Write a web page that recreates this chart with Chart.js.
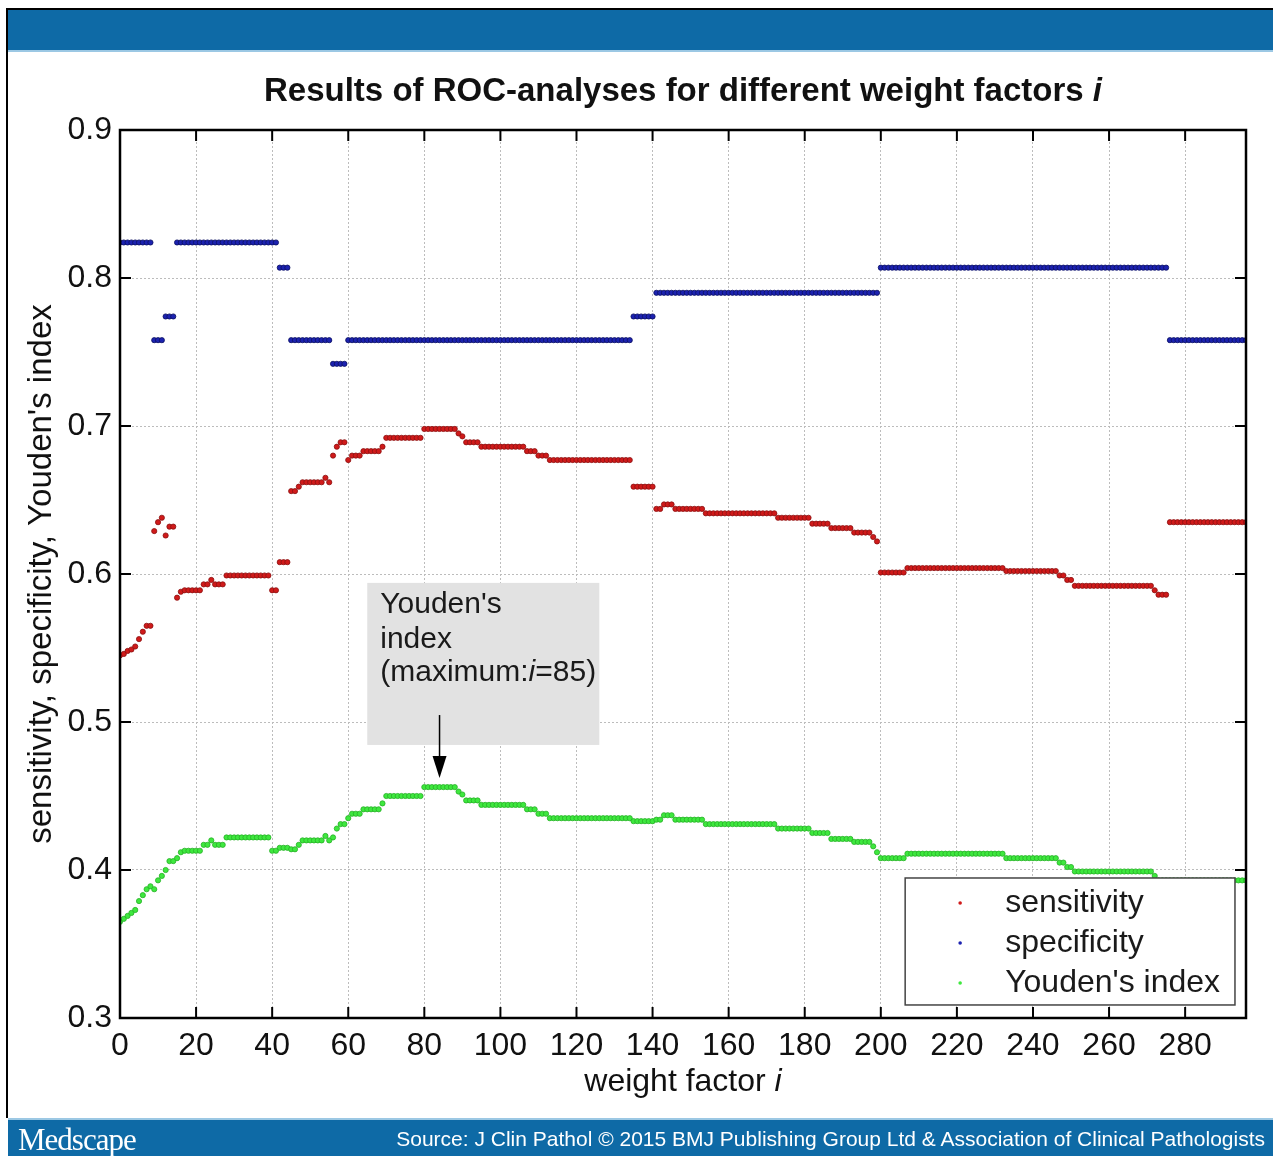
<!DOCTYPE html>
<html>
<head>
<meta charset="utf-8">
<script src="https://cdn.jsdelivr.net/npm/chart.js@4.4.1/dist/chart.umd.min.js"></script>
<style>
  html, body { margin: 0; padding: 0; background: #fff; }
  body { width: 1273px; height: 1156px; position: relative; overflow: hidden; font-family: "Liberation Sans", Arial, sans-serif; }
  #chart { position: absolute; left: 0; top: 0; }
  .frame { position: absolute; left: 6px; top: 8px; width: 1267px; height: 1110px; border-left: 2px solid #000; border-top: 2px solid #000; box-sizing: border-box; pointer-events: none; }
  .band-top { position: absolute; left: 8px; top: 10px; width: 1265px; height: 40px; background: #0e6aa6; border-bottom: 2px solid #9cc8e4; }
  .band-bottom { position: absolute; left: 8px; top: 1118px; width: 1265px; height: 38px; background: #0e6aa6; color: #fff; border-top: 2px solid #9cc8e4; box-sizing: border-box; }
  .logo { position: absolute; left: 10px; top: 2px; font-family: "Liberation Serif", "DejaVu Serif", serif; font-size: 31px; letter-spacing: -1px; }
  .source { position: absolute; right: 8px; top: 7px; font-size: 21px; white-space: nowrap; }
</style>
</head>
<body>
<canvas id="chart" width="1273" height="1156"></canvas>
<div class="frame"></div>
<div class="band-top"></div>
<div class="band-bottom">
  <span class="logo">Medscape</span>
  <span class="source">Source: J Clin Pathol © 2015 BMJ Publishing Group Ltd &amp; Association of Clinical Pathologists</span>
</div>
<script>
// weight factor i runs from 0 to xMax, one point per integer
const xMax = 296;
const xTicks = [0, 20, 40, 60, 80, 100, 120, 140, 160, 180, 200, 220, 240, 260, 280];
const yTicks = [0.3, 0.4, 0.5, 0.6, 0.7, 0.8, 0.9];

// values, as [from i, to i, value] runs
const sensitivityRuns = [
  [0, 0, 0.545], [1, 1, 0.546], [2, 2, 0.548], [3, 3, 0.549], [4, 4, 0.551], [5, 5, 0.556],
  [6, 6, 0.561], [7, 8, 0.565], [9, 9, 0.629], [10, 10, 0.635], [11, 11, 0.638], [12, 12, 0.626],
  [13, 14, 0.632], [15, 15, 0.584], [16, 16, 0.588], [17, 21, 0.589], [22, 23, 0.593], [24, 24, 0.596],
  [25, 27, 0.593], [28, 39, 0.599], [40, 41, 0.589], [42, 44, 0.608], [45, 46, 0.656], [47, 47, 0.659],
  [48, 53, 0.662], [54, 54, 0.665], [55, 55, 0.662], [56, 56, 0.680], [57, 57, 0.686], [58, 59, 0.689],
  [60, 60, 0.677], [61, 63, 0.680], [64, 68, 0.683], [69, 69, 0.686], [70, 79, 0.692], [80, 88, 0.698],
  [89, 89, 0.695], [90, 90, 0.693], [91, 94, 0.689], [95, 106, 0.686], [107, 109, 0.683], [110, 112, 0.680],
  [113, 134, 0.677], [135, 140, 0.659], [141, 142, 0.644], [143, 145, 0.647], [146, 153, 0.644],
  [154, 172, 0.641], [173, 181, 0.638], [182, 186, 0.634], [187, 192, 0.631], [193, 197, 0.628],
  [198, 198, 0.625], [199, 199, 0.622], [200, 206, 0.601], [207, 232, 0.604], [233, 246, 0.602],
  [247, 248, 0.599], [249, 250, 0.596], [251, 271, 0.592], [272, 272, 0.589], [273, 275, 0.586],
  [276, 296, 0.635]
];

const specificityRuns = [
  [0, 8, 0.824], [9, 11, 0.758], [12, 14, 0.774], [15, 41, 0.824], [42, 44, 0.807], [45, 55, 0.758],
  [56, 59, 0.742], [60, 134, 0.758], [135, 140, 0.774], [141, 199, 0.790], [200, 275, 0.807],
  [276, 296, 0.758]
];

const youdenRuns = [
  [0, 0, 0.365], [1, 1, 0.367], [2, 2, 0.369], [3, 3, 0.371], [4, 4, 0.373], [5, 5, 0.379],
  [6, 6, 0.383], [7, 7, 0.387], [8, 8, 0.389], [9, 9, 0.387], [10, 10, 0.393], [11, 11, 0.396],
  [12, 12, 0.400], [13, 14, 0.406], [15, 15, 0.408], [16, 16, 0.412], [17, 21, 0.413], [22, 23, 0.417],
  [24, 24, 0.420], [25, 27, 0.417], [28, 39, 0.422], [40, 41, 0.413], [42, 44, 0.415], [45, 46, 0.414],
  [47, 47, 0.417], [48, 53, 0.420], [54, 54, 0.423], [55, 55, 0.420], [56, 56, 0.422], [57, 57, 0.428],
  [58, 59, 0.431], [60, 60, 0.435], [61, 63, 0.438], [64, 68, 0.441], [69, 69, 0.445], [70, 79, 0.450],
  [80, 88, 0.456], [89, 89, 0.453], [90, 90, 0.451], [91, 94, 0.447], [95, 106, 0.444], [107, 109, 0.441],
  [110, 112, 0.438], [113, 134, 0.435], [135, 140, 0.433], [141, 142, 0.434], [143, 145, 0.437],
  [146, 153, 0.434], [154, 172, 0.431], [173, 181, 0.428], [182, 186, 0.425], [187, 192, 0.421],
  [193, 197, 0.419], [198, 198, 0.416], [199, 199, 0.412], [200, 206, 0.408], [207, 232, 0.411],
  [233, 246, 0.408], [247, 248, 0.405], [249, 250, 0.402], [251, 271, 0.399], [272, 272, 0.396],
  [273, 275, 0.393], [276, 296, 0.393]
];

const FONT = '"Liberation Sans", Arial, sans-serif';

function expandRuns(runs) {
  const pts = [];
  runs.forEach(([from, to, value]) => {
    for (let i = from; i <= to; i++) pts.push({ x: i, y: value });
  });
  return pts;
}

function dotSet(label, runs, fill, edge) {
  return {
    label: label,
    data: expandRuns(runs),
    backgroundColor: fill,
    borderColor: edge,
    borderWidth: 0.8,
    pointRadius: 2.6,
    showLine: false,
  };
}

function line(ctx, x1, y1, x2, y2) {
  ctx.beginPath();
  ctx.moveTo(x1, y1);
  ctx.lineTo(x2, y2);
  ctx.stroke();
}

// draws a run of [text, font] pieces centred on cx
function mixedText(ctx, pieces, cx, cy) {
  let total = 0;
  pieces.forEach(p => { ctx.font = p[1]; total += ctx.measureText(p[0]).width; });
  let x = cx - total / 2;
  ctx.textAlign = 'left';
  ctx.textBaseline = 'middle';
  pieces.forEach(p => {
    ctx.font = p[1];
    ctx.fillText(p[0], x, cy);
    x += ctx.measureText(p[0]).width;
  });
}

// grey note box with arrow, and the boxed legend inside the plot
const overlays = {
  id: 'overlays',
  afterDatasetsDraw(chart) {
    const { ctx, scales: { x, y } } = chart;
    ctx.save();

    // annotation
    const bl = x.getPixelForValue(65), br = x.getPixelForValue(126);
    const bt = y.getPixelForValue(0.594), bb = y.getPixelForValue(0.4845);
    ctx.fillStyle = '#e2e2e2';
    ctx.fillRect(bl, bt, br - bl, bb - bt);
    ctx.fillStyle = '#1a1a1a';
    ctx.textAlign = 'left';
    ctx.textBaseline = 'middle';
    ctx.font = '30px ' + FONT;
    ctx.fillText("Youden's", bl + 13, bt + 22);
    ctx.fillText('index', bl + 13, bt + 57);
    let tx = bl + 13;
    [['(maximum:', '30px ' + FONT], ['i', 'italic 30px ' + FONT], ['=85)', '30px ' + FONT]].forEach(p => {
      ctx.font = p[1];
      ctx.fillText(p[0], tx, bt + 90);
      tx += ctx.measureText(p[0]).width;
    });
    const ax = x.getPixelForValue(84);
    const aTop = y.getPixelForValue(0.5047), aTip = y.getPixelForValue(0.4622);
    ctx.strokeStyle = '#000';
    ctx.lineWidth = 1.5;
    line(ctx, ax, aTop, ax, aTip - 18);
    ctx.fillStyle = '#000';
    ctx.beginPath();
    ctx.moveTo(ax - 7, aTip - 22);
    ctx.lineTo(ax + 7, aTip - 22);
    ctx.lineTo(ax, aTip);
    ctx.closePath();
    ctx.fill();

    // legend
    const ll = x.getPixelForValue(206.4), lr = x.getPixelForValue(293.1);
    const lt = y.getPixelForValue(0.3946), lb = y.getPixelForValue(0.3088);
    ctx.fillStyle = '#fff';
    ctx.fillRect(ll, lt, lr - ll, lb - lt);
    ctx.strokeStyle = '#444';
    ctx.lineWidth = 1.5;
    ctx.strokeRect(ll, lt, lr - ll, lb - lt);
    ctx.font = '32px ' + FONT;
    chart.data.datasets.forEach((ds, k) => {
      const ry = lt + 25 + k * 40;
      ctx.fillStyle = ds.backgroundColor;
      ctx.beginPath();
      ctx.arc(ll + 55, ry, 1.8, 0, Math.PI * 2);
      ctx.fill();
      ctx.fillStyle = '#1a1a1a';
      ctx.fillText(ds.label, ll + 100, ry);
    });
    ctx.restore();
  },
  afterDraw(chart) {
    const { ctx, chartArea: a, scales: { x, y } } = chart;
    ctx.save();
    ctx.strokeStyle = '#000';
    ctx.lineWidth = 2.5;
    ctx.strokeRect(a.left, a.top, a.right - a.left, a.bottom - a.top);

    // matlab-style inward ticks on all four sides
    ctx.lineWidth = 2;
    xTicks.forEach(v => {
      const px = x.getPixelForValue(v);
      line(ctx, px, a.bottom, px, a.bottom - 11);
      line(ctx, px, a.top, px, a.top + 11);
    });
    yTicks.forEach(v => {
      const py = y.getPixelForValue(v);
      line(ctx, a.left, py, a.left + 11, py);
      line(ctx, a.right, py, a.right - 11, py);
    });

    ctx.fillStyle = '#111';
    const cx = (a.left + a.right) / 2;
    mixedText(ctx, [
      ['Results of ROC-analyses for different weight factors ', 'bold 33px ' + FONT],
      ['i', 'bold italic 33px ' + FONT]
    ], cx, 92);
    mixedText(ctx, [
      ['weight factor ', '32px ' + FONT],
      ['i', 'italic 32px ' + FONT]
    ], cx, 1082);

    ctx.translate(42, (a.top + a.bottom) / 2);
    ctx.rotate(-Math.PI / 2);
    mixedText(ctx, [["sensitivity, specificity, Youden's index", '33px ' + FONT]], 0, 0);
    ctx.restore();
  }
};

new Chart(document.getElementById('chart'), {
  type: 'scatter',
  data: {
    datasets: [
      dotSet('sensitivity', sensitivityRuns, '#d01a1a', '#8a1010'),
      dotSet('specificity', specificityRuns, '#1c22b0', '#0a0f60'),
      dotSet("Youden's index", youdenRuns, '#3ee83e', '#26b026'),
    ]
  },
  options: {
    responsive: false,
    animation: false,
    layout: { padding: { top: 130, right: 27, bottom: 0, left: 0 } },
    plugins: {
      legend: { display: false },
      title: { display: false },
      tooltip: { enabled: false },
    },
    scales: {
      x: {
        type: 'linear',
        min: 0,
        max: xMax,
        afterFit: s => { s.height = 138; },
        afterBuildTicks: s => { s.ticks = xTicks.map(v => ({ value: v })); },
        ticks: { font: { size: 32, family: FONT }, color: '#111', padding: 9, maxRotation: 0, autoSkip: false },
        grid: { color: '#bcbcbc', lineWidth: 1, drawTicks: false },
        border: { display: false, dash: [2, 2] },
      },
      y: {
        min: 0.3,
        max: 0.9,
        afterFit: s => { s.width = 120; },
        afterBuildTicks: s => { s.ticks = yTicks.map(v => ({ value: v })); },
        ticks: { font: { size: 32, family: FONT }, color: '#111', padding: 8, callback: v => v.toFixed(1) },
        grid: { color: '#bcbcbc', lineWidth: 1, drawTicks: false },
        border: { display: false, dash: [2, 2] },
      }
    }
  },
  plugins: [overlays]
});
</script>
</body>
</html>
